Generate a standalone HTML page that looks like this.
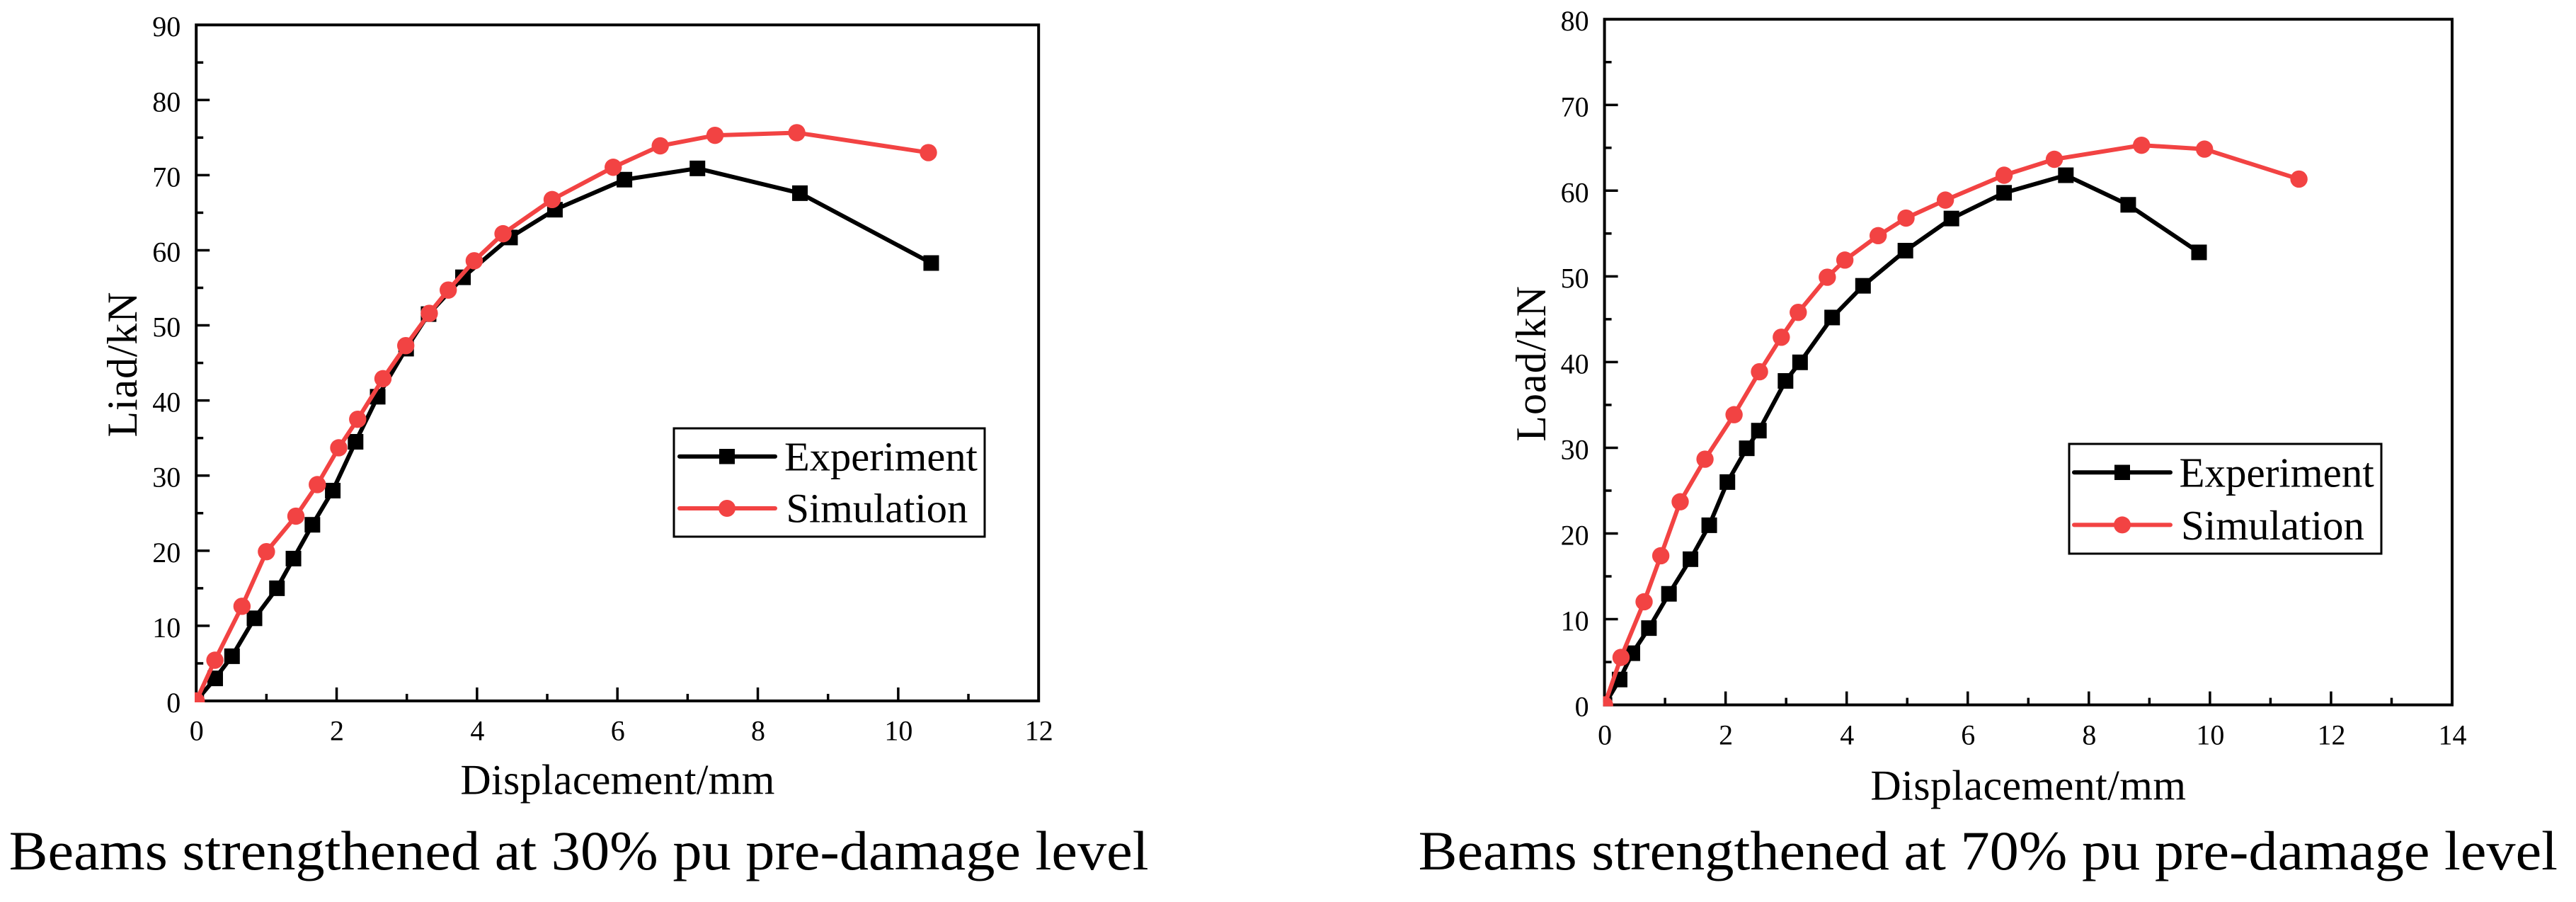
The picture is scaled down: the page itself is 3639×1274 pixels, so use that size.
<!DOCTYPE html>
<html lang="en">
<head>
<meta charset="utf-8">
<title>Load-displacement curves of strengthened beams</title>
<style>
  html, body { margin: 0; padding: 0; background: #fff; }
  body { width: 3639px; height: 1274px; overflow: hidden; }
  svg { display: block; }
  text { font-family: "Liberation Serif", "Times New Roman", serif; fill: #000; }
  .legend-text { font-size: 58.5px; }
  .axis-title { font-size: 60px; }
  .caption { font-size: 78px; }
  .tick-text { font-size: 40px; }
</style>
</head>
<body>
<svg id="figure" xmlns="http://www.w3.org/2000/svg" width="3639" height="1274" viewBox="0 0 3639 1274">
  <defs>
    <clipPath id="clip-left"><rect x="275" y="33" width="1194" height="959"></rect></clipPath>
    <clipPath id="clip-right"><rect x="2264.6" y="25" width="1201.4" height="972.6"></rect></clipPath>
  </defs>

  <g id="chart-left"></g>
  <g id="chart-right"></g>

  <text class="axis-title" transform="translate(193,617.5) rotate(-90)" textLength="205" lengthAdjust="spacing">Liad/kN</text>
  <text class="axis-title" x="650.4" y="1121.7" textLength="444" lengthAdjust="spacing">Displacement/mm</text>
  <text class="caption" x="12.6" y="1228" textLength="1610" lengthAdjust="spacingAndGlyphs">Beams strengthened at 30% pu pre-damage level</text>

  <text class="axis-title" transform="translate(2183,623.7) rotate(-90)" textLength="219.6" lengthAdjust="spacing">Load/kN</text>
  <text class="axis-title" x="2642.4" y="1129.3" textLength="445.6" lengthAdjust="spacing">Displacement/mm</text>
  <text class="caption" x="2003.6" y="1228" textLength="1609.4" lengthAdjust="spacingAndGlyphs">Beams strengthened at 70% pu pre-damage level</text>

  <g>
    <rect x="952" y="605" width="439" height="153" fill="#fff" stroke="#000" stroke-width="3"></rect>
    <g>
      <line x1="960" y1="644.7" x2="1095" y2="644.7" stroke="#000" stroke-width="6" stroke-linecap="round"></line>
      <rect x="1016" y="634" width="22" height="21.5" fill="#000"></rect>
      <text class="legend-text" x="1108" y="664.7">Experiment</text>
    </g>
    <g>
      <line x1="960" y1="718" x2="1095" y2="718" stroke="#f24343" stroke-width="6" stroke-linecap="round"></line>
      <circle cx="1027" cy="718" r="12" fill="#f24343"></circle>
      <text class="legend-text" x="1110.5" y="737.6">Simulation</text>
    </g>
  </g>

  <g>
    <rect x="2923" y="627" width="441" height="155" fill="#fff" stroke="#000" stroke-width="3"></rect>
    <g>
      <line x1="2930" y1="667.3" x2="3066" y2="667.3" stroke="#000" stroke-width="6" stroke-linecap="round"></line>
      <rect x="2987" y="656.5" width="22" height="21.5" fill="#000"></rect>
      <text class="legend-text" x="3078.5" y="687.6" style="font-size:59px">Experiment</text>
    </g>
    <g>
      <line x1="2930" y1="741.4" x2="3066" y2="741.4" stroke="#f24343" stroke-width="6" stroke-linecap="round"></line>
      <circle cx="2998" cy="741.4" r="12" fill="#f24343"></circle>
      <text class="legend-text" x="3081" y="762" style="font-size:59px">Simulation</text>
    </g>
  </g>
</svg>

<script>
// ----- Chart data: beams strengthened at 30% pre-damage -----
const leftXTicks = [0, 2, 4, 6, 8, 10, 12];
const leftYTicks = [0, 10, 20, 30, 40, 50, 60, 70, 80, 90];
const leftExperimentDisp = [0, 0.27, 0.51, 0.83, 1.15, 1.385, 1.655, 1.945, 2.27, 2.585, 2.99, 3.31, 3.80, 4.47, 5.11, 6.10, 7.14, 8.60, 10.47];
const leftExperimentLoad = [0, 3.0, 5.95, 11.0, 15.0, 18.95, 23.45, 28.0, 34.5, 40.5, 46.9, 51.5, 56.4, 61.7, 65.4, 69.4, 70.9, 67.6, 58.3];
const leftSimulationDisp = [0, 0.266, 0.652, 1.0, 1.42, 1.725, 2.03, 2.30, 2.66, 2.985, 3.32, 3.59, 3.96, 4.37, 5.07, 5.94, 6.61, 7.39, 8.555, 10.43];
const leftSimulationLoad = [0, 5.42, 12.6, 19.87, 24.6, 28.8, 33.7, 37.5, 42.9, 47.3, 51.6, 54.7, 58.6, 62.2, 66.75, 71.05, 73.9, 75.3, 75.65, 73.0];

// ----- Chart data: beams strengthened at 70% pre-damage -----
const rightXTicks = [0, 2, 4, 6, 8, 10, 12, 14];
const rightYTicks = [0, 10, 20, 30, 40, 50, 60, 70, 80];
const rightExperimentDisp = [0, 0.25, 0.46, 0.734, 1.065, 1.42, 1.73, 2.03, 2.35, 2.55, 2.99, 3.23, 3.76, 4.27, 4.97, 5.73, 6.60, 7.62, 8.65, 9.82];
const rightExperimentLoad = [0, 2.96, 6.03, 8.96, 12.96, 17.0, 20.96, 26.0, 29.94, 32.0, 37.8, 39.97, 45.2, 48.9, 53.0, 56.75, 59.75, 61.8, 58.35, 52.8];
const rightSimulationDisp = [0, 0.273, 0.654, 0.93, 1.25, 1.66, 2.14, 2.56, 2.92, 3.20, 3.68, 3.97, 4.52, 4.98, 5.63, 6.60, 7.43, 8.87, 9.91, 11.47];
const rightSimulationLoad = [0, 5.54, 12.03, 17.4, 23.7, 28.67, 33.86, 38.87, 42.9, 45.8, 49.9, 51.9, 54.75, 56.8, 58.9, 61.8, 63.66, 65.3, 64.85, 61.35];

const SVG_NS = 'http://www.w3.org/2000/svg';
const RED = '#f24343';
const BLACK = '#000';

function make(tag, attrs, parent) {
  const el = document.createElementNS(SVG_NS, tag);
  for (const k in attrs) el.setAttribute(k, attrs[k]);
  parent.appendChild(el);
  return el;
}

function drawChart(host, frame, xTicks, yTicks, series) {
  const xMax = xTicks[xTicks.length - 1];
  const yMax = yTicks[yTicks.length - 1];
  const sx = v => frame.left + (v / xMax) * (frame.right - frame.left);
  const sy = v => frame.bottom - (v / yMax) * (frame.bottom - frame.top);

  const axes = make('g', {}, host);
  
  

  const box = make('rect', {
    x: frame.left, y: frame.top,
    width: frame.right - frame.left, height: frame.bottom - frame.top,
    fill: 'none', stroke: BLACK, 'stroke-width': 4
  }, axes);
  
  

  // X ticks: major at every label, minor halfway between labels
  xTicks.forEach((t, i) => {
    if (i > 0 && i < xTicks.length - 1) {
      const major = make('line', { x1: sx(t), x2: sx(t), y1: frame.bottom, y2: frame.bottom - 19, stroke: BLACK, 'stroke-width': 3.5 }, axes);
      
      
    }
    if (i < xTicks.length - 1) {
      const m = (t + xTicks[i + 1]) / 2;
      const minor = make('line', { x1: sx(m), x2: sx(m), y1: frame.bottom, y2: frame.bottom - 10, stroke: BLACK, 'stroke-width': 3.5 }, axes);
      
      
    }
    const label = make('text', { x: sx(t) + 0.5, y: frame.bottom + frame.xLabelDrop, 'text-anchor': 'middle', class: 'tick-text' }, axes);
    
    
    label.textContent = t;
  });

  // Y ticks
  yTicks.forEach((t, i) => {
    if (i > 0 && i < yTicks.length - 1) {
      const major = make('line', { x1: frame.left, x2: frame.left + 19, y1: sy(t), y2: sy(t), stroke: BLACK, 'stroke-width': 3.5 }, axes);
      
      
    }
    if (i < yTicks.length - 1) {
      const m = (t + yTicks[i + 1]) / 2;
      const minor = make('line', { x1: frame.left, x2: frame.left + 10, y1: sy(m), y2: sy(m), stroke: BLACK, 'stroke-width': 3.5 }, axes);
      
      
    }
    const label = make('text', { x: frame.left - 22, y: sy(t) + 16, 'text-anchor': 'end', class: 'tick-text' }, axes);
    
    
    label.textContent = t;
  });

  // Series
  series.forEach(s => {
    const g = make('g', { 'clip-path': 'url(#' + frame.clip + ')' }, host);
    
    

    const pts = s.xs.map((x, i) => sx(x).toFixed(2) + ',' + sy(s.ys[i]).toFixed(2)).join(' ');
    const line = make('polyline', { points: pts, fill: 'none', stroke: s.color, 'stroke-width': 6, 'stroke-linejoin': 'round' }, g);
    
    

    s.xs.forEach((x, i) => {
      const px = sx(x), py = sy(s.ys[i]);
      let mark;
      if (s.marker === 'square') {
        mark = make('rect', { x: px - 11, y: py - 11, width: 22, height: 22, fill: s.color }, g);
      } else {
        mark = make('circle', { cx: px, cy: py, r: 12.2, fill: s.color }, g);
      }
      
      
    });
  });
}

drawChart(
  document.getElementById('chart-left'),
  { left: 277.2, right: 1467.2, top: 35.2, bottom: 990, xLabelDrop: 55.5, clip: 'clip-left' },
  leftXTicks, leftYTicks,
  [
    { name: 'experiment', xs: leftExperimentDisp, ys: leftExperimentLoad, color: BLACK, marker: 'square' },
    { name: 'simulation', xs: leftSimulationDisp, ys: leftSimulationLoad, color: RED, marker: 'circle' }
  ]
);

drawChart(
  document.getElementById('chart-right'),
  { left: 2266.6, right: 3464, top: 27.2, bottom: 995.6, xLabelDrop: 56, clip: 'clip-right' },
  rightXTicks, rightYTicks,
  [
    { name: 'experiment', xs: rightExperimentDisp, ys: rightExperimentLoad, color: BLACK, marker: 'square' },
    { name: 'simulation', xs: rightSimulationDisp, ys: rightSimulationLoad, color: RED, marker: 'circle' }
  ]
);
</script>
</body>
</html>
